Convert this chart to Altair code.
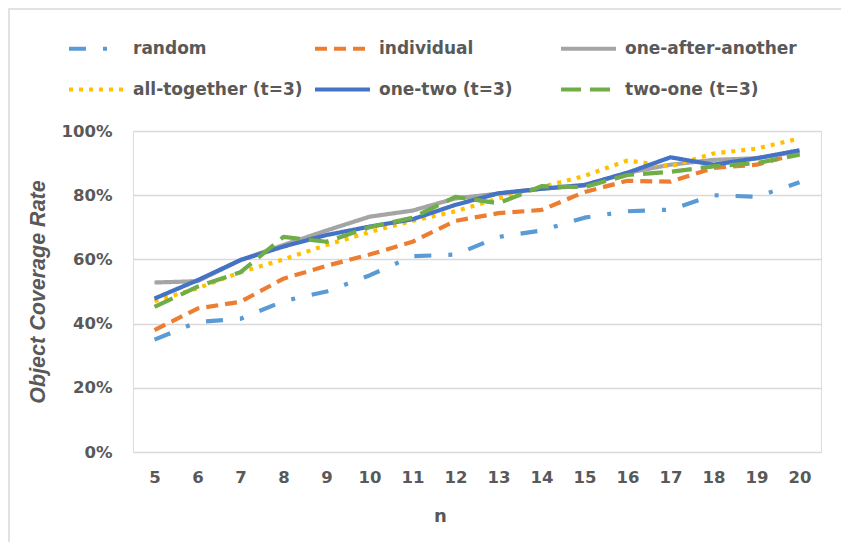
import altair as alt
import pandas as pd

n_values = list(range(5, 21))
series_names = ["random", "individual", "one-after-another",
                "all-together (t=3)", "one-two (t=3)", "two-one (t=3)"]

random_ = [35, 40.5, 41.5, 47, 50, 55, 61, 61.5, 67, 69, 73, 75, 75.5, 80, 79.5, 84]
individual = [38, 44.7, 46.8, 54, 58, 61.5, 65.5, 72, 74.4, 75.4, 81, 84.5, 84.2, 88.5, 89.5, 93]
one_after_another = [52.8, 53.2, 59.8, 64.5, 69, 73.3, 75.2, 79, 80.5, 82, 83, 87, 89.5, 91, 91.5, 93.7]
all_together = [47, 51, 56, 60, 64.5, 68.5, 72, 75, 79, 82.5, 86, 90.8, 89, 93, 94.5, 97.7]
one_two = [47.8, 53.5, 59.8, 64, 67.6, 70.2, 72.5, 77, 80.6, 82, 83.2, 87, 91.8, 89.5, 91.5, 94]
two_one = [45.2, 51.5, 56, 67, 65.5, 70, 73, 79.5, 77.5, 82.8, 82.5, 86.3, 87.3, 89, 90, 92.6]

colors = ["#5B9BD5", "#ED7D31", "#A5A5A5", "#FFC000", "#4472C4", "#70AD47"]
dashes = [[17, 17, 4, 17], [12, 7], [1, 0], [4, 6], [1, 0], [20, 9]]

rows = []
for name, vals in zip(series_names,
                      [random_, individual, one_after_another, all_together, one_two, two_one]):
    for n, v in zip(n_values, vals):
        rows.append({"n": n, "rate": v, "series": name})
df = pd.DataFrame(rows)

TXT = "#595959"
FONT = "DejaVu Sans"

legend = alt.Legend(
    title=None, orient="none", legendX=-66, legendY=-112, direction="horizontal",
    columns=3, gridAlign="all", columnPadding=2, rowPadding=3,
    symbolType="stroke", symbolSize=3025, symbolStrokeWidth=4,
    labelFont=FONT, labelFontSize=17, labelFontWeight="bold", labelColor=TXT,
    labelOffset=7, labelLimit=300, padding=0,
)

chart = alt.Chart(df).mark_line(strokeWidth=4.2, strokeCap="butt", strokeJoin="round").encode(
    x=alt.X("n:Q", scale=alt.Scale(domain=[4.5, 20.5], nice=False, zero=False),
            axis=alt.Axis(values=n_values, format="d", title="n", grid=False, domain=False,
                          ticks=False, labelPadding=17, labelFont=FONT, labelFontSize=16.5,
                          labelFontWeight="bold", labelColor=TXT, titleFont=FONT,
                          titleFontSize=18, titleFontWeight="bold", titleColor=TXT,
                          titleX=307, titlePadding=22)),
    y=alt.Y("rate:Q", scale=alt.Scale(domain=[0, 100], nice=False),
            axis=alt.Axis(values=[0, 20, 40, 60, 80, 100], labelExpr="datum.value + '%'",
                          title="Object Coverage Rate", grid=True, gridColor="#d9d9d9",
                          gridWidth=1.5, domain=False, ticks=False, labelPadding=21,
                          labelFont=FONT, labelFontSize=16.5, labelFontWeight="bold",
                          labelColor=TXT, titleFont="Liberation Sans", titleFontSize=21.5,
                          titleFontWeight="bold", titleFontStyle="italic", titleColor=TXT,
                          titlePadding=12)),
    color=alt.Color("series:N", scale=alt.Scale(domain=series_names, range=colors),
                    legend=legend),
    strokeDash=alt.StrokeDash("series:N", scale=alt.Scale(domain=series_names, range=dashes),
                              legend=legend),
    order=alt.Order("n:Q"),
)

frame = alt.Chart(pd.DataFrame({"k": [0]})).mark_rect(
    fill=None, stroke="#d9d9d9", strokeWidth=1.5
).encode(
    x=alt.value(-124), x2=alt.value(740), y=alt.value(-122), y2=alt.value(418)
)

final = alt.layer(frame, chart).properties(
    width=688, height=321,
    padding={"left": 125, "top": 123, "right": 20, "bottom": 90},
    autosize=alt.AutoSizeParams(type="none"),
).configure_view(stroke=None).configure(background="white")

final.save("out.html", embed_options={"renderer": "svg", "actions": False})
